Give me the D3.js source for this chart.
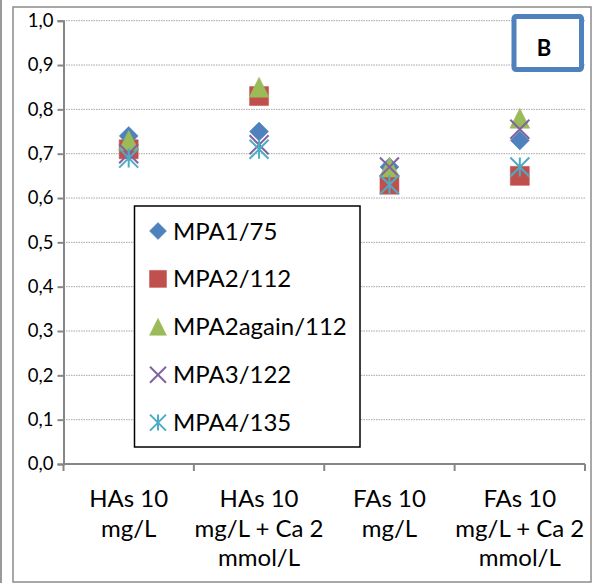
<!DOCTYPE html>
<html>
<head>
    <meta charset="UTF-8">
    <title>MPA chart B</title>
    <style>
        body{ margin:0; background:#fff;}
        text{ font-family: Lato, "Liberation Sans", sans-serif; fill:#000;}
    </style>
</head>
<body>
<script src="https://cdn.jsdelivr.net/npm/d3@7"></script>
<script>

// categories and their wrapped labels
var categories = ["HAs 10 mg/L", "HAs 10 mg/L + Ca 2 mmol/L", "FAs 10 mg/L", "FAs 10 mg/L + Ca 2 mmol/L"];
var catLines = [
    ["HAs 10", "mg/L"],
    ["HAs 10", "mg/L + Ca 2", "mmol/L"],
    ["FAs 10", "mg/L"],
    ["FAs 10", "mg/L + Ca 2", "mmol/L"]
];

var seriesNames = ["MPA1/75", "MPA2/112", "MPA2again/112", "MPA3/122", "MPA4/135"];
var mpa1      = [0.74, 0.75, 0.67, 0.73];
var mpa2      = [0.71, 0.83, 0.63, 0.65];
var mpa2again = [0.73, 0.85, 0.67, 0.78];
var mpa3      = [0.70, 0.72, 0.67, 0.755];
var mpa4      = [0.69, 0.71, 0.63, 0.67];
var seriesValues = [mpa1, mpa2, mpa2again, mpa3, mpa4];

var yTicks = [0, 0.1, 0.2, 0.3, 0.4, 0.5, 0.6, 0.7, 0.8, 0.9, 1.0];

var colors = ["#4F81BD", "#C0504D", "#9BBB59", "#8064A2", "#4BACC6"];

// excel-ish marker shapes, size = half width
var shapes = [
    { draw: function(p, r){ p.moveTo(0,-r); p.lineTo(r,0); p.lineTo(0,r); p.lineTo(-r,0); p.closePath(); } },
    { draw: function(p, r){ p.rect(-r,-r,2*r,2*r); } },
    { draw: function(p, r){ p.moveTo(0,-r); p.lineTo(r,r); p.lineTo(-r,r); p.closePath(); } },
    { draw: function(p, r){ p.moveTo(-r,-r); p.lineTo(r,r); p.moveTo(r,-r); p.lineTo(-r,r); } },
    { draw: function(p, r){ p.moveTo(-r,-r); p.lineTo(r,r); p.moveTo(r,-r); p.lineTo(-r,r); p.moveTo(0,-r); p.lineTo(0,r); } }
];
var filled = [true, true, true, false, false];

var W = 595, H = 583;
var svg = d3.select("body").append("svg")
        .attr("width", W)
        .attr("height", H);

// outer frame
svg.append("line").attr("x1", 1).attr("x2", 1).attr("y1", 0).attr("y2", H)
        .attr("stroke", "#999").attr("stroke-width", 2);
svg.append("rect").attr("x", 13).attr("y", 7).attr("width", 578).attr("height", 575)
        .attr("fill", "#fff").attr("stroke", "#8c8c8c").attr("stroke-width", 1.5);

var x = d3.scaleBand().domain(categories).range([63.5, 585]);
var y = d3.scaleLinear().domain([0, 1]).range([464, 20.7]);

// grid
svg.append("g").selectAll("line")
        .data(yTicks.slice(1))
        .enter().append("line")
        .attr("x1", 63.5).attr("x2", 586)
        .attr("y1", function(d){ return y(d); })
        .attr("y2", function(d){ return y(d); })
        .attr("stroke", "#a6a6a6").attr("stroke-width", 1)
        .attr("stroke-dasharray", "1.5,1");

// y axis
var yAxis = d3.axisLeft(y).tickValues(yTicks).tickSize(6).tickPadding(4)
        .tickFormat(function(d){ return d3.format(".1f")(d).replace(".", ","); });
var gy = svg.append("g").attr("transform", "translate(63.5,0)").call(yAxis);
gy.select(".domain").attr("stroke", "#868686").attr("stroke-width", 2);
gy.selectAll(".tick line").attr("stroke", "#868686").attr("stroke-width", 2);
gy.selectAll(".tick text").style("font-family", "Lato").style("font-size", "18.5px").attr("fill", "#000");

// x axis (ticks at category boundaries)
var gx = svg.append("g");
gx.append("line").attr("x1", 63.5).attr("x2", 585).attr("y1", y(0)).attr("y2", y(0))
        .attr("stroke", "#868686").attr("stroke-width", 2);
var bounds = categories.map(function(c){ return x(c); }).concat([x.range()[1]]);
gx.selectAll(".xt").data(bounds).enter().append("line")
        .attr("x1", function(d){ return d; }).attr("x2", function(d){ return d; })
        .attr("y1", y(0)).attr("y2", y(0) + 7)
        .attr("stroke", "#868686").attr("stroke-width", 2);

var lab = svg.append("g").selectAll("text")
        .data(categories)
        .enter().append("text")
        .attr("text-anchor", "middle")
        .style("font-size", "24px")
        .attr("transform", function(d){ return "translate(" + (x(d) + x.bandwidth()/2) + ",507)"; });
lab.selectAll("tspan")
        .data(function(d, i){ return catLines[i]; })
        .enter().append("tspan")
        .attr("x", 0)
        .attr("y", function(d, i){ return i * 29.5; })
        .text(function(d){ return d; });

// markers
var pts = svg.append("g");
seriesValues.forEach(function(vals, s){
    pts.selectAll(".s" + s)
            .data(vals)
            .enter().append("path")
            .attr("d", d3.symbol().type(shapes[s]).size(s === 2 ? 10 : 9.5))
            .attr("transform", function(d, i){ return "translate(" + (x(categories[i]) + x.bandwidth()/2) + "," + y(d) + ")"; })
            .attr("fill", filled[s] ? colors[s] : "none")
            .attr("stroke", colors[s])
            .attr("stroke-width", filled[s] ? 0.5 : 2);
});

// legend
var leg = svg.append("g");
leg.append("rect").attr("x", 134.5).attr("y", 206).attr("width", 225.5).attr("height", 241)
        .attr("fill", "#fff").attr("stroke", "#000").attr("stroke-width", 1.5);
var item = leg.selectAll(".item")
        .data(seriesNames)
        .enter().append("g")
        .attr("transform", function(d, i){ return "translate(158," + (231 + i * 47.9) + ")"; });
item.append("path")
        .attr("d", function(d, i){ return d3.symbol().type(shapes[i]).size(i > 2 ? 8 : 8.5)(); })
        .attr("fill", function(d, i){ return filled[i] ? colors[i] : "none"; })
        .attr("stroke", function(d, i){ return colors[i]; })
        .attr("stroke-width", function(d, i){ return filled[i] ? 0.5 : 2; });
item.append("text")
        .attr("x", 15).attr("y", 8.5)
        .style("font-size", "24px")
        .text(function(d){ return d; });

// panel label
svg.append("rect").attr("x", 514).attr("y", 16.5).attr("width", 67.5).attr("height", 53)
        .attr("rx", 2).attr("fill", "#fff").attr("stroke", "#4F81BD").attr("stroke-width", 5);
svg.append("text").attr("x", 544).attr("y", 56).attr("text-anchor", "middle")
        .style("font-size", "22px").style("font-weight", "bold").text("B");

</script>
</body>
</html>
